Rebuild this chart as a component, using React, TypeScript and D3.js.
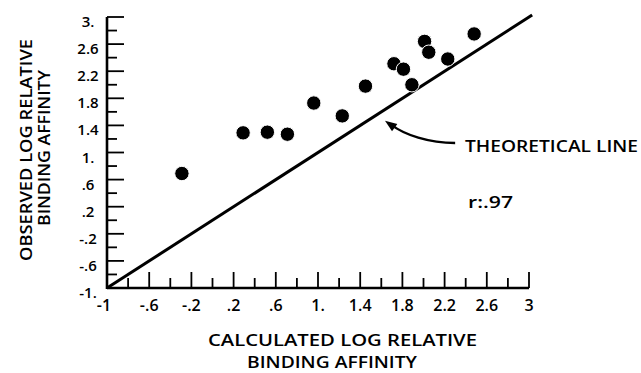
import React from "react";
import * as d3 from "d3";

const calculated = [-0.29, 0.29, 0.52, 0.71, 0.96, 1.23, 1.45, 1.72, 1.81, 1.89, 2.01, 2.05, 2.23, 2.48];
const observed = [0.69, 1.29, 1.3, 1.27, 1.73, 1.54, 1.98, 2.31, 2.23, 2.0, 2.64, 2.48, 2.38, 2.75];

const xTickValues = [-1, -0.6, -0.2, 0.2, 0.6, 1, 1.4, 1.8, 2.2, 2.6, 3];
const xTickLabels = ["-1", "-.6", "-.2", ".2", ".6", "1.", "1.4", "1.8", "2.2", "2.6", "3"];
const yTickValues = [-1, -0.6, -0.2, 0.2, 0.6, 1, 1.4, 1.8, 2.2, 2.6, 3];
const yTickLabels = ["-1.", "-.6", "-.2", ".2", ".6", "1.", "1.4", "1.8", "2.2", "2.6", "3."];
const minorTicks = [-0.8, -0.4, 0, 0.4, 0.8, 1.2, 1.6, 2.0, 2.4, 2.8];

const theoreticalLine = [-1, 3.03];
const correlation = "r:.97";

const width = 641;
const height = 373;
const font = "'Open Sans', 'DejaVu Sans', sans-serif";
const ink = "#000";

export default function App() {
  const x = d3.scaleLinear().domain([-1, 3]).range([107, 529]);
  const y = d3.scaleLinear().domain([-1, 3]).range([288, 17]);

  // arrow pointing at the theoretical line
  const tail: [number, number] = [x(2.3), y(1.14)];
  const c1: [number, number] = [x(2.05), y(1.14)];
  const c2: [number, number] = [x(1.82), y(1.26)];
  const tip: [number, number] = [x(1.635), y(1.47)];
  const p = d3.path();
  p.moveTo(tail[0], tail[1]);
  p.bezierCurveTo(c1[0], c1[1], c2[0], c2[1], tip[0] + 6, tip[1] + 4);
  const dx = tip[0] - c2[0];
  const dy = tip[1] - c2[1];
  const len = Math.hypot(dx, dy);
  const ux = dx / len;
  const uy = dy / len;
  const bx = tip[0] - ux * 12;
  const by = tip[1] - uy * 12;
  const head = [
    [tip[0], tip[1]],
    [bx - uy * 4.5, by + ux * 4.5],
    [bx + uy * 4.5, by - ux * 4.5],
  ];

  return (
    <svg
      width={width}
      height={height}
      style={{ position: "absolute", left: 0, top: 0, background: "#fff" }}
      fontFamily={font}
      fontWeight={600}
    >
      {/* axes */}
      <line x1={x(-1)} x2={x(3)} y1={y(-1)} y2={y(-1)} stroke={ink} strokeWidth={2.6} />
      <line x1={x(-1)} x2={x(-1)} y1={y(-1) + 1} y2={y(3)} stroke={ink} strokeWidth={2.6} />

      {/* x ticks */}
      {xTickValues.map((v, i) => (
        <g key={"xt" + i}>
          <line x1={x(v)} x2={x(v)} y1={y(-1)} y2={y(-1) - 16} stroke={ink} strokeWidth={1.8} />
          <text x={x(v) - (i === 0 ? 3 : 0)} y={y(-1) + 23} fontSize={16} textAnchor="middle" fill={ink}>
            {xTickLabels[i]}
          </text>
        </g>
      ))}
      {minorTicks.map((v, i) => (
        <line key={"xm" + i} x1={x(v)} x2={x(v)} y1={y(-1)} y2={y(-1) - 10} stroke={ink} strokeWidth={1.8} />
      ))}

      {/* y ticks */}
      {yTickValues.map((v, i) => (
        <g key={"yt" + i}>
          <line x1={x(-1)} x2={x(-1) + 17} y1={y(v)} y2={y(v)} stroke={ink} strokeWidth={1.8} />
          <text x={88} y={y(v) + 10} fontSize={15} textAnchor="middle" fill={ink}>
            {yTickLabels[i]}
          </text>
        </g>
      ))}
      {minorTicks.map((v, i) => (
        <line key={"ym" + i} x1={x(-1)} x2={x(-1) + 10} y1={y(v)} y2={y(v)} stroke={ink} strokeWidth={1.8} />
      ))}

      {/* theoretical line y = x */}
      <line
        x1={x(theoreticalLine[0])}
        y1={y(theoreticalLine[0])}
        x2={x(theoreticalLine[1])}
        y2={y(theoreticalLine[1])}
        stroke={ink}
        strokeWidth={3}
      />

      {/* observations */}
      {calculated.map((c, i) => (
        <circle key={"p" + i} cx={x(c)} cy={y(observed[i])} r={7.2} fill={ink} stroke="#fff" strokeWidth={1} />
      ))}

      {/* annotation */}
      <path d={p.toString()} fill="none" stroke={ink} strokeWidth={2.4} />
      <polygon points={head.map((d) => d.join(",")).join(" ")} fill={ink} />
      <text x={465} y={152} fontSize={17} textLength={173} lengthAdjust="spacingAndGlyphs" fill={ink}>
        THEORETICAL LINE
      </text>
      <text x={468} y={208} fontSize={17} textLength={45} lengthAdjust="spacingAndGlyphs" fill={ink}>
        {correlation}
      </text>

      {/* axis titles */}
      <text x={208} y={346} fontSize={16} textLength={269} lengthAdjust="spacingAndGlyphs" fill={ink}>
        CALCULATED LOG RELATIVE
      </text>
      <text x={247} y={368} fontSize={16} textLength={170} lengthAdjust="spacingAndGlyphs" fill={ink}>
        BINDING AFFINITY
      </text>
      <text
        transform="translate(32,150) rotate(-90)"
        fontSize={16}
        textAnchor="middle"
        textLength={222}
        lengthAdjust="spacingAndGlyphs"
        fill={ink}
      >
        OBSERVED LOG RELATIVE
      </text>
      <text
        transform="translate(50,148) rotate(-90)"
        fontSize={16}
        textAnchor="middle"
        textLength={156}
        lengthAdjust="spacingAndGlyphs"
        fill={ink}
      >
        BINDING AFFINITY
      </text>
    </svg>
  );
}
